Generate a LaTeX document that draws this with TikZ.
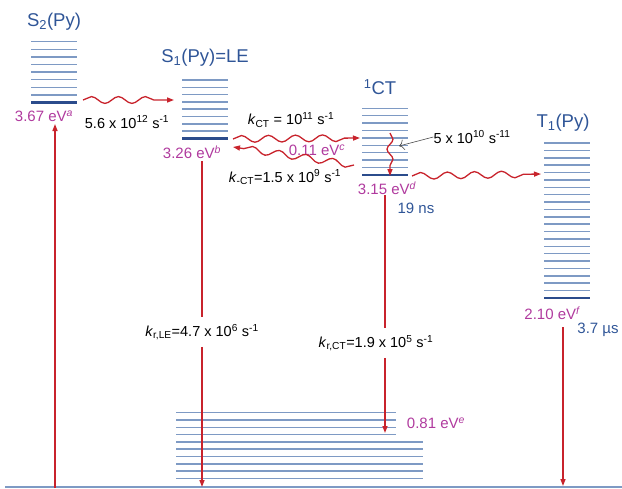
\documentclass[tikz,border=0pt]{standalone}
\usepackage{fontspec}
\setmainfont{Liberation Sans}
\usetikzlibrary{arrows.meta, decorations.pathmorphing}

\definecolor{lvlblue}{HTML}{7E9AC4}
\definecolor{lvldark}{HTML}{2B4C8C}
\definecolor{txtblue}{HTML}{2F5597}
\definecolor{emag}{HTML}{B03A9E}
\definecolor{arrred}{HTML}{C8232C}

\begin{document}
\begin{tikzpicture}[
  x=1pt, y=-1pt,
  >={Triangle[length=7pt, width=5pt]},
  lvl/.style={draw=lvlblue, line width=1.5pt},
  lvlzero/.style={draw=lvldark, line width=2.8pt},
  sname/.style={text=txtblue, font=\fontsize{18.5}{20}\selectfont, inner sep=0pt},
  ename/.style={text=emag, font=\fontsize{15}{17}\selectfont, inner sep=0pt},
  rate/.style={font=\fontsize{14.5}{16}\selectfont, inner sep=0pt},
  gap/.style={outer ysep=7pt},
  life/.style={text=txtblue, font=\fontsize{15}{17}\selectfont, inner sep=0pt},
  rline/.style={draw=arrred, line width=1.5pt},
  arr/.style={->, rline},
  wav/.style={->, draw=arrred, line width=1.3pt, decorate,
              decoration={snake, amplitude=3.4pt, segment length=27pt, post length=7pt}},
  ptr/.style={-{To[length=5pt]}, draw=black!70, line width=0.6pt},
]
\useasboundingbox (0,0) rectangle (622,488);
% ---- level stacks ----
\foreach \i in {0,...,7} \draw[lvl] (31,41.7+7.6*\i) -- (77,41.7+7.6*\i);
\draw[lvlzero] (31,102.3) -- (77,102.3);
\foreach \i in {0,...,7} \draw[lvl] (182,80+7.3*\i) -- (228,80+7.3*\i);
\draw[lvlzero] (182,138.8) -- (228,138.8);
\foreach \i in {0,...,8} \draw[lvl] (362,108.3+7.4*\i) -- (408,108.3+7.4*\i);
\draw[lvlzero] (362,175) -- (408,175);
\foreach \i in {0,...,20} \draw[lvl] (544,143+7.38*\i) -- (590,143+7.38*\i);
\draw[lvlzero] (544,298) -- (590,298);
% ---- ground state manifold ----
\foreach \i in {0,...,3} \draw[lvl] (176,412.7+7.3*\i) -- (396,412.7+7.3*\i);
\foreach \i in {4,...,9} \draw[lvl] (176,412.7+7.3*\i) -- (423,412.7+7.3*\i);
\draw[draw=lvlblue, line width=1.2pt] (5,487) -- (622,487);
% ---- state names and energies ----
\node[sname] (s2lab) at (54,22)  {S\textsubscript{2}(Py)};
\node[sname] (s1lab) at (205,58) {S\textsubscript{1}(Py)=LE};
\node[sname] (ctlab) at (380,87) {\textsuperscript{1}CT};
\node[sname] (t1lab) at (563,123) {T\textsubscript{1}(Py)};
\node[ename] (es2) at (44,116)  {3.67 eV\textsuperscript{\itshape a}};
\node[ename] (es1) at (192,152) {3.26 eV\textsuperscript{\itshape b}};
\node[ename] (ect) at (387,188) {3.15 eV\textsuperscript{\itshape d}};
\node[ename] (et1) at (552,313) {2.10 eV\textsuperscript{\itshape f}};
\node[ename] (eg)  at (436,423) {0.81 eV\textsuperscript{\itshape e}};
\node[ename] (ec)  at (317,150) {0.11 eV\textsuperscript{\itshape c}};
% ---- rates and lifetimes ----
\node[rate] (k1)   at (127,122) {5.6 x 10\textsuperscript{12} s\textsuperscript{-1}};
\node[rate] (kct)  at (291,120) {\textit{k}\textsubscript{CT} = 10\textsuperscript{11} s\textsuperscript{-1}};
\node[rate] (kmct) at (285,177) {\textit{k}\textsubscript{-CT}=1.5 x 10\textsuperscript{9} s\textsuperscript{-1}};
\node[rate] (kic)  at (472,137) {5 x 10\textsuperscript{10} s\textsuperscript{-11}};
\node[rate, gap] (krle) at (202,332) {\textit{k}\textsubscript{r,LE}=4.7 x 10\textsuperscript{6} s\textsuperscript{-1}};
\node[rate, gap] (krct) at (376,343) {\textit{k}\textsubscript{r,CT}=1.9 x 10\textsuperscript{5} s\textsuperscript{-1}};
\node[life] (tct) at (416,208) {19 ns};
\node[life] (tt1) at (598,330) {3.7 µs};
% ---- connector ends ----
\coordinate (gexc) at (55,488);
\coordinate (s2up) at (55,124);
\coordinate (s2r) at (83,100);
\coordinate (s1l) at (174,100);
\coordinate (s1r) at (233,139);
\coordinate (ctl) at (360,138);
\coordinate (ctlb) at (354,165);
\coordinate (s1rb) at (233,147);
\coordinate (cttop) at (390,133);
\coordinate (ctbot) at (390,176);
\coordinate (ctwav) at (399,146);
\coordinate (ctr) at (412,176);
\coordinate (t1l) at (541,174);
\coordinate (s1d) at (202,161);
\coordinate (gs1) at (202,487);
\coordinate (ctd) at (385,195);
\coordinate (gct) at (385,433);
\coordinate (t1d) at (563,327);
\coordinate (gt1) at (563,486);
% ---- radiative ----
\draw[arr] (gexc) -- (s2up);
\draw[rline] (s1d) -- (krle);
\draw[arr] (krle) -- (gs1);
\draw[rline] (ctd) -- (ctd |- krct.north);
\draw[arr] (ctd |- krct.south) -- (gct);
\draw[arr] (t1d) -- (gt1);
% ---- non-radiative ----
\draw[wav] (s2r) -- (s1l);
\draw[wav] (s1r) -- (ctl);
\draw[wav] (ctlb) -- (s1rb);
\draw[wav, decoration={segment length=20pt, amplitude=3pt, post length=6pt}] (cttop) -- (ctbot);
\draw[wav] (ctr) -- (t1l);
\draw[ptr] (kic.west) -- (ctwav);
\end{tikzpicture}
\end{document}
